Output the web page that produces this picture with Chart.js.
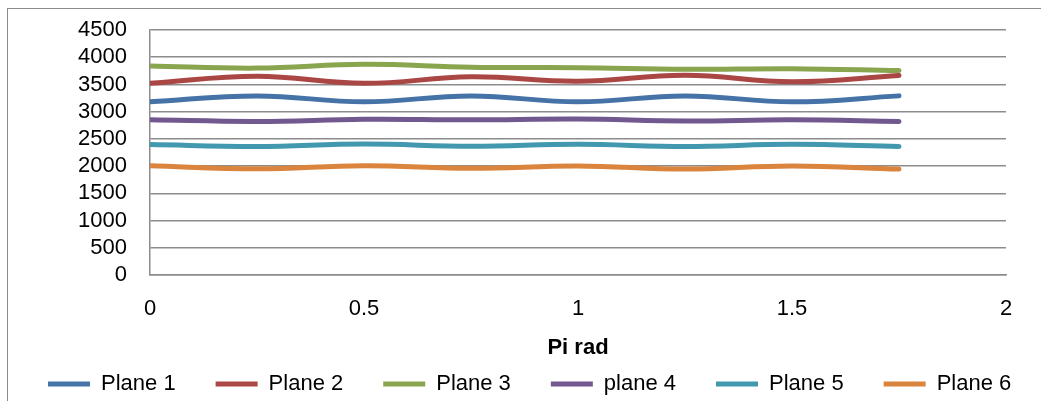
<!DOCTYPE html>
<html>
<head>
<meta charset="utf-8">
<script src="https://cdn.jsdelivr.net/npm/chart.js@4"></script>
<style>
  html, body { margin: 0; padding: 0; background: #fff; overflow: hidden; }
  #wrap { position: relative; width: 1041px; height: 401px; }
  #frame { position: absolute; left: 7px; top: 8px; width: 1100px; height: 500px; border: 1.5px solid #8c8c8c; }
  canvas { position: absolute; left: 0; top: 0; }
</style>
</head>
<body>
<div id="wrap">
  <div id="frame"></div>
  <canvas id="planeChart" width="1041" height="401"></canvas>
</div>
<script>
const angles = [0, 0.25, 0.5, 0.75, 1, 1.25, 1.5, 1.75]
const planeNames = ['Plane 1', 'Plane 2', 'Plane 3', 'plane 4', 'Plane 5', 'Plane 6']
const plane1 = [3180, 3290, 3180, 3290, 3180, 3290, 3180, 3290]
const plane2 = [3520, 3650, 3520, 3640, 3560, 3670, 3550, 3665]
const plane3 = [3840, 3800, 3870, 3815, 3808, 3778, 3790, 3755]
const plane4 = [2850, 2820, 2860, 2850, 2865, 2830, 2850, 2820]
const plane5 = [2395, 2360, 2405, 2365, 2400, 2360, 2400, 2360]
const plane6 = [2008, 1950, 2008, 1960, 2002, 1945, 2002, 1945]
const colors = ['#4572A7', '#AA4643', '#89A54E', '#71588F', '#4198AF', '#DB843D']

const series = [plane1, plane2, plane3, plane4, plane5, plane6]
const font = { family: "'Liberation Sans', Arial, sans-serif", size: 22 }
const gridGray = '#8c8c8c'

const datasets = series.map((vals, i) => ({
    label: planeNames[i],
    data: vals.map((v, j) => ({ x: angles[j], y: v })),
    borderColor: colors[i],
    backgroundColor: colors[i],
    borderWidth: 5,
    borderCapStyle: 'round',
    pointRadius: 0,
    tension: 0.4,
    fill: false
}))

// squeeze the legend box and put it where excel had it
const legendPlace = {
    id: 'legendPlace',
    beforeUpdate(chart) {
        const lg = chart.legend
        if (lg && !lg._patched) {
            const fit = lg.fit
            lg.fit = function () { this.maxWidth = 1100; fit.call(this); this.height = 40 }
            lg._patched = true
        }
    },
    afterLayout(chart) {
        const lg = chart.legend
        lg.top = 333; lg.bottom = 401
        lg.left = 8; lg.right = 1100
    }
}

new Chart(document.getElementById('planeChart'), {
    type: 'line',
    data: { datasets: datasets },
    options: {
        responsive: false,
        animation: false,
        layout: { padding: { left: 0, right: 35, top: 30, bottom: 0 } },
        scales: {
            x: {
                type: 'linear',
                min: 0,
                max: 2,
                ticks: { stepSize: 0.5, color: '#000', font: font, padding: 21, maxRotation: 0, callback: v => String(v) },
                grid: { display: false, drawTicks: false },
                border: { display: true, color: gridGray, width: 1.5 },
                title: { display: true, text: 'Pi rad', color: '#000', font: { family: font.family, size: 22, weight: 'bold' }, padding: { top: 0, bottom: 0 } },
                afterFit: (s) => { s.height = 86 }
            },
            y: {
                min: 0,
                max: 4500,
                ticks: { stepSize: 500, autoSkip: false, color: '#000', font: font, padding: 23, callback: v => String(v) },
                grid: { color: gridGray, lineWidth: 1.5, drawTicks: false },
                border: { display: true, color: gridGray, width: 1.5 },
                afterFit: (s) => { s.width = 150; s.paddingTop = 12; s.paddingBottom = 12 }
            }
        },
        plugins: {
            legend: {
                position: 'bottom',
                align: 'start',
                labels: {
                    color: '#000',
                    font: font,
                    boxWidth: 42,
                    boxHeight: 5,
                    padding: 40,
                    generateLabels: (chart) => {
                        const items = Chart.defaults.plugins.legend.labels.generateLabels(chart)
                        items.forEach(it => { it.fillStyle = it.strokeStyle; it.lineWidth = 0 })
                        return items
                    }
                }
            },
            tooltip: { enabled: false }
        }
    },
    plugins: [legendPlace]
})
</script>
</body>
</html>
